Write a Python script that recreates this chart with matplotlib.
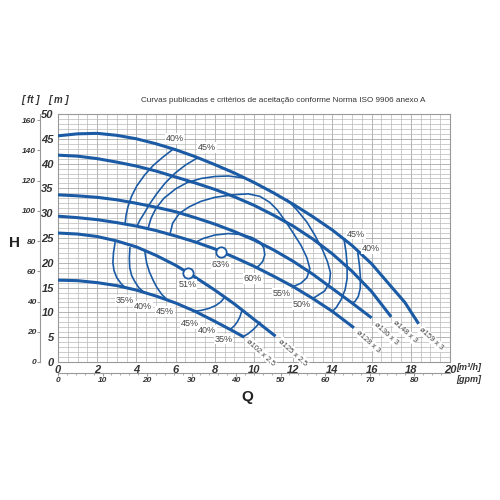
import matplotlib
matplotlib.use('Agg')
import matplotlib.pyplot as plt
import numpy as np

# curvas das bombas: vazão Q [m³/h], altura H [m]
q_159 = [0, 1, 2, 3, 4, 5, 6, 7, 8, 9, 10, 11, 12, 13, 14, 15, 16, 17, 17.7, 18.4]
h_159 = [45.6, 46.0, 46.1, 45.7, 45.0, 44.0, 42.8, 41.4, 39.8, 38.1, 36.2, 34.1, 31.8, 29.3,
         26.6, 23.5, 19.8, 15.2, 12.0, 7.7]
q_148 = [0, 1, 2, 3, 4, 5, 6, 7, 8, 9, 10, 11, 12, 13, 14, 15, 16, 17]
h_148 = [41.7, 41.5, 41.0, 40.3, 39.5, 38.5, 37.3, 36.1, 34.8, 33.3, 31.6, 29.6, 27.4, 24.8,
         21.8, 18.3, 14.2, 9.1]
q_136 = [0, 1, 2, 3, 4, 5, 6, 7, 8, 9, 10, 11, 12, 13, 14, 15, 16]
h_136 = [33.7, 33.5, 33.2, 32.7, 32.0, 31.2, 30.3, 29.1, 27.8, 26.3, 24.6, 22.6, 20.3, 17.7,
         14.8, 11.9, 8.9]
q_128 = [0, 1, 2, 3, 4, 5, 6, 7, 8, 9, 10, 11, 12, 13, 14, 15.1]
h_128 = [29.4, 29.1, 28.7, 28.1, 27.4, 26.5, 25.4, 24.2, 22.8, 21.1, 19.3, 17.3, 15.2, 12.8,
         10.2, 6.9]
q_125 = [0, 1, 2, 3, 4, 5, 6, 7, 8, 9, 10, 11.1]
h_125 = [26.0, 25.8, 25.3, 24.4, 23.2, 21.5, 19.5, 17.1, 14.5, 11.7, 8.6, 5.2]
q_102 = [0, 1, 2, 3, 4, 5, 6, 7, 8, 9, 9.5]
h_102 = [16.5, 16.4, 16.0, 15.4, 14.5, 13.3, 11.9, 10.2, 8.2, 6.1, 5.0]

curve_names = ['ø159 x 3', 'ø148 x 3', 'ø136 x 3', 'ø128 x 3', 'ø125 x 2,5', 'ø102 x 2,5']

# curvas de rendimento (3 estágios)
e40_l_q = [5.87, 5.35, 4.85, 4.40, 4.02, 3.75, 3.57, 3.47, 3.42]
e40_l_h = [42.9, 41.3, 39.6, 37.6, 35.5, 33.4, 31.3, 29.5, 27.8]
e45_l_q = [7.09, 6.5, 5.95, 5.45, 5.05, 4.70, 4.40, 4.18, 4.03]
e45_l_h = [41.1, 39.7, 38.0, 36.0, 34.0, 32.0, 30.0, 28.6, 27.4]
e50_l_q = [4.59, 4.75, 5.0, 5.4, 6.0, 6.6, 7.3, 8.0, 8.7, 9.5]
e50_l_h = [26.9, 29.0, 31.0, 33.0, 34.9, 36.2, 37.0, 37.4, 37.5, 37.1]
e55_q = [5.71, 5.85, 6.2, 6.7, 7.3, 8.0, 8.9, 9.7, 10.3, 10.8, 11.2, 11.6, 12.0, 12.4, 12.7,
         12.85, 12.7, 12.4, 12.0]
e55_h = [25.7, 28.0, 30.0, 31.3, 32.4, 33.2, 33.7, 33.9, 33.4, 32.2, 30.6, 28.4, 26.0, 23.5,
         21.0, 18.8, 17.0, 15.9, 15.2]
e60_q = [7.0, 7.4, 8.0, 8.7, 9.4, 9.9, 10.3, 10.5, 10.55, 10.45, 10.25, 10.1]
e60_h = [24.1, 24.9, 25.6, 25.9, 25.7, 25.1, 24.2, 23.0, 21.6, 20.3, 19.4, 19.0]
e50_r_q = [11.7, 12.2, 12.7, 13.1, 13.5, 13.75, 13.9, 13.85, 13.6, 13.0]
e50_r_h = [32.7, 30.6, 28.2, 25.6, 22.6, 20.2, 18.0, 16.0, 14.3, 12.8]
e45_r_q = [14.6, 14.7, 14.75, 14.75, 14.65, 14.45, 14.2, 14.0]
e45_r_h = [24.6, 22.0, 19.5, 16.8, 14.6, 12.6, 11.0, 10.2]
e40_r_q = [15.3, 15.38, 15.43, 15.42, 15.32, 15.15, 15.0]
e40_r_h = [21.9, 19.5, 17.0, 14.8, 13.2, 12.2, 11.9]

# curvas de rendimento (2,5 estágios)
f35_l_q = [2.91, 2.83, 2.80, 2.86, 3.0, 3.2, 3.42]
f35_l_h = [24.0, 22.0, 20.0, 18.4, 17.0, 15.9, 15.0]
f40_l_q = [3.67, 3.64, 3.66, 3.76, 3.92, 4.12, 4.34]
f40_l_h = [23.0, 21.0, 19.0, 17.4, 16.2, 15.0, 14.2]
f45_l_q = [4.44, 4.52, 4.66, 4.85, 5.05, 5.3, 5.56]
f45_l_h = [22.0, 20.0, 18.2, 16.5, 15.0, 13.6, 12.6]
f45_r_q = [6.9, 7.3, 7.7, 8.05, 8.3, 8.5]
f45_r_h = [10.2, 10.4, 10.8, 11.4, 12.1, 13.0]
f40_r_q = [8.8, 9.0, 9.15, 9.28, 9.38]
f40_r_h = [6.6, 7.3, 8.1, 9.1, 10.3]
f35_r_q = [9.45, 9.7, 9.95, 10.15, 10.3]
f35_r_h = [5.1, 5.7, 6.5, 7.3, 8.0]

# pontos de melhor rendimento
bep_q = [8.3, 6.62]
bep_h = [22.2, 17.9]

blue = '#1b5ba5'
txt_c = '#444444'

plt.rcParams['font.family'] = ['Liberation Sans', 'DejaVu Sans']

fig = plt.figure(figsize=(5, 5), dpi=100)
ax = fig.add_axes([0.116, 0.276, 0.784, 0.496])
ax.set_xlim(0, 20)
ax.set_ylim(0, 50)

# grade
ax.set_xticks(np.arange(0, 20.01, 0.5), minor=True)
ax.set_yticks(np.arange(0, 50.01, 1), minor=True)
ax.grid(True, which='minor', color='#b8b8b8', lw=0.5)
ax.grid(True, which='major', color='#a8a8a8', lw=0.6)
ax.set_axisbelow(True)
for s in ax.spines.values():
    s.set_color('#999999')
    s.set_linewidth(0.8)

ax.set_xticks(np.arange(0, 21, 2))
ax.set_yticks(np.arange(0, 51, 5))
ax.tick_params(which='both', length=0)
ax.tick_params(axis='x', pad=2)
ax.tick_params(axis='y', pad=3)
for lab in ax.get_xticklabels() + ax.get_yticklabels():
    lab.set_fontstyle('italic')
    lab.set_fontweight('bold')
    lab.set_fontsize(8)
    lab.set_color('#333333')

# eixo em pés
ft = ax.secondary_yaxis(-0.045, functions=(lambda m: m / 0.3048, lambda f: f * 0.3048))
ft.set_yticks(np.arange(0, 161, 20))
ft.spines['left'].set_color('#999999')
ft.tick_params(length=2, color='#999999', pad=1, labelsize=6)
for lab in ft.get_yticklabels():
    lab.set_fontstyle('italic')
    lab.set_fontweight('bold')
    lab.set_color('#333333')

# eixo em gpm
gpm = ax.secondary_xaxis(-0.045, functions=(lambda q: q * 4.4029, lambda g: g / 4.4029))
gpm.set_xticks(np.arange(0, 81, 10))
gpm.set_xticks(np.arange(0, 88, 2), minor=True)
gpm.spines['bottom'].set_color('#999999')
gpm.tick_params(which='major', length=2, color='#999999', pad=1, labelsize=6)
gpm.tick_params(which='minor', length=1.2, color='#999999')
for lab in gpm.get_xticklabels():
    lab.set_fontstyle('italic')
    lab.set_fontweight('bold')
    lab.set_color('#333333')

# curvas das bombas
pumps = [(q_159, h_159), (q_148, h_148), (q_136, h_136), (q_128, h_128), (q_125, h_125), (q_102, h_102)]
for q, h in pumps:
    ax.plot(q, h, color=blue, lw=2.2, solid_capstyle='butt', solid_joinstyle='round', zorder=4)

# curvas de rendimento
iso = [(e40_l_q, e40_l_h), (e45_l_q, e45_l_h), (e50_l_q, e50_l_h), (e55_q, e55_h), (e60_q, e60_h),
       (e50_r_q, e50_r_h), (e45_r_q, e45_r_h), (e40_r_q, e40_r_h),
       (f35_l_q, f35_l_h), (f40_l_q, f40_l_h), (f45_l_q, f45_l_h),
       (f45_r_q, f45_r_h), (f40_r_q, f40_r_h), (f35_r_q, f35_r_h)]
for q, h in iso:
    ax.plot(q, h, color=blue, lw=1.2, solid_joinstyle='round', zorder=3)

ax.scatter(bep_q, bep_h, s=55, facecolor='white', edgecolor=blue, lw=1.3, zorder=6)

box = dict(facecolor='white', edgecolor='none', pad=0.6)
pct_labels = [
    (5.95, 45.0, '40%'), (7.6, 43.2, '45%'),
    (15.2, 25.8, '45%'), (15.95, 22.8, '40%'),
    (9.95, 16.8, '60%'), (11.4, 13.9, '55%'), (12.45, 11.5, '50%'),
    (8.3, 19.6, '63%'), (6.6, 15.6, '51%'),
    (3.4, 12.4, '35%'), (4.35, 11.2, '40%'), (5.45, 10.2, '45%'),
    (6.75, 7.8, '45%'), (7.6, 6.4, '40%'), (8.45, 4.6, '35%'),
]
for x, y, t in pct_labels:
    ax.text(x, y, t, fontsize=6.5, color=txt_c, ha='center', va='center', bbox=box, zorder=5)

name_pos = [(18.6, 7.2), (17.25, 8.6), (16.3, 8.2), (15.4, 6.6), (11.45, 5.0), (9.8, 5.0)]
for (x, y), t in zip(name_pos, curve_names):
    ax.text(x, y, t, fontsize=5.5, color=txt_c, rotation=-42, rotation_mode='anchor',
            ha='left', va='top', bbox=box, zorder=5)

# textos fora do gráfico
fig.text(0.566, 0.800, 'Curvas publicadas e critérios de aceitação conforme Norma ISO 9906 anexo A',
         ha='center', va='center', fontsize=5.9, color='#333333')
fig.text(0.062, 0.800, '[ ft ]', ha='center', va='center', fontsize=7, style='italic', weight='bold',
         color='#333333')
fig.text(0.118, 0.800, '[ m ]', ha='center', va='center', fontsize=7, style='italic', weight='bold',
         color='#333333')
fig.text(0.028, 0.514, 'H', ha='center', va='center', fontsize=11, weight='bold', color='#222222')
fig.text(0.494, 0.206, 'Q', ha='center', va='center', fontsize=11, weight='bold', color='#222222')
fig.text(0.912, 0.264, '[m³/h]', ha='left', va='center', fontsize=6.5, style='italic', weight='bold',
         color='#333333')
fig.text(0.912, 0.242, '[gpm]', ha='left', va='center', fontsize=6.5, style='italic', weight='bold',
         color='#333333')

fig.savefig('out.png', dpi=100, facecolor='white')
